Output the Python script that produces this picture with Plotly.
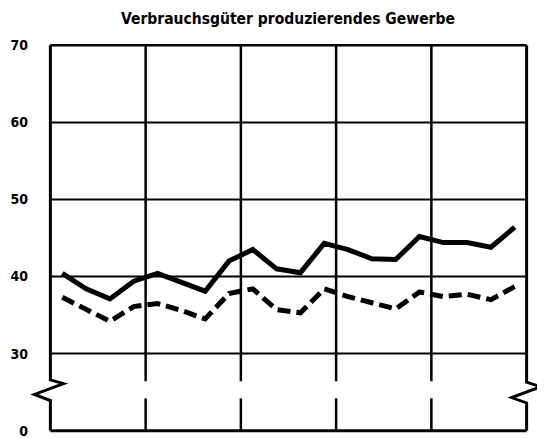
import plotly.graph_objects as go

# Quarterly values (5 years x 4 quarters)
quarters = [i + 0.5 for i in range(20)]
solid_values = [40.4, 38.4, 37.1, 39.4, 40.4, 39.3, 38.1, 42.0, 43.5, 41.0,
                40.5, 44.3, 43.5, 42.3, 42.2, 45.2, 44.4, 44.4, 43.8, 46.4]
dashed_values = [37.3, 35.7, 34.2, 36.1, 36.5, 35.6, 34.5, 37.8, 38.4, 35.7,
                 35.3, 38.4, 37.4, 36.6, 35.8, 38.0, 37.4, 37.7, 37.0, 38.7]

y_tickvals = [20, 30, 40, 50, 60, 70]
y_ticktext = ["0", "30", "40", "50", "60", "70"]
x_grid = [0, 4, 8, 12, 16, 20]
y_grid = [30, 40, 50, 60, 70]

title_text = "Verbrauchsgüter produzierendes Gewerbe"

XR = [-0.1, 20.1]
YR = [19.7, 70.3]

def px(xd):
    return (xd - XR[0]) / (XR[1] - XR[0])

FONT = "Liberation Sans Narrow, DejaVu Sans Condensed, Arial Narrow, sans-serif"

W, H = 537, 430  # page body has an 8px margin

fig = go.Figure()
fig.add_trace(go.Scatter(x=quarters, y=solid_values, mode="lines",
                         line=dict(color="black", width=5), showlegend=False))
fig.add_trace(go.Scatter(x=quarters, y=dashed_values, mode="lines",
                         line=dict(color="black", width=5, dash="13px,6px"),
                         showlegend=False))

shapes = []
for yv in y_grid:
    shapes.append(dict(type="line", xref="x", yref="y", x0=0, x1=20, y0=yv, y1=yv,
                       line=dict(color="black", width=2.5 if yv == 70 else 2), layer="below"))
shapes.append(dict(type="line", xref="x", yref="y", x0=0, x1=20, y0=20, y1=20,
                   line=dict(color="black", width=3), layer="below"))
for xv in x_grid[1:-1]:
    shapes.append(dict(type="line", xref="x", yref="y", x0=xv, x1=xv, y0=26.4, y1=70,
                       line=dict(color="black", width=2.5), layer="below"))
    shapes.append(dict(type="line", xref="x", yref="y", x0=xv, x1=xv, y0=20, y1=24.2,
                       line=dict(color="black", width=2.5), layer="below"))
lp = (f"M {px(0)} 70 L {px(0)} 26.6 L {px(0.55)} 26.1 L {px(-0.67)} 24.7 "
      f"L {px(0)} 23.9 L {px(0)} 20")
shapes.append(dict(type="path", xref="paper", yref="y", path=lp,
                   line=dict(color="black", width=3)))
rp = (f"M {px(20)} 70 L {px(20)} 26.3 L {px(20.6)} 25.7 L {px(19.37)} 24.3 "
      f"L {px(20)} 23.6 L {px(20)} 20")
shapes.append(dict(type="path", xref="paper", yref="y", path=rp,
                   line=dict(color="black", width=3)))

fig.update_layout(
    width=W, height=H,
    margin=dict(l=39.6, r=15.6, t=34.7, b=4.7, autoexpand=False),
    paper_bgcolor="white", plot_bgcolor="white",
    shapes=shapes,
    title=dict(text="<b>" + title_text + "</b>", x=280 / W, xref="container",
               y=1 - 11 / H, yref="container", xanchor="center", yanchor="middle",
               font=dict(family=FONT, size=15.5, color="black")),
    xaxis=dict(range=XR, showgrid=False, zeroline=False, showticklabels=False,
               showline=False, ticks="", automargin=False),
    yaxis=dict(range=YR, showgrid=False, zeroline=False, showline=False,
               tickvals=y_tickvals, ticktext=["<b>" + t + "</b>" for t in y_ticktext],
               ticks="", ticklabelstandoff=19, ticklabeloverflow="allow",
               automargin=False,
               tickfont=dict(family=FONT, size=14, color="black")),
)

fig.write_html("out.html")
